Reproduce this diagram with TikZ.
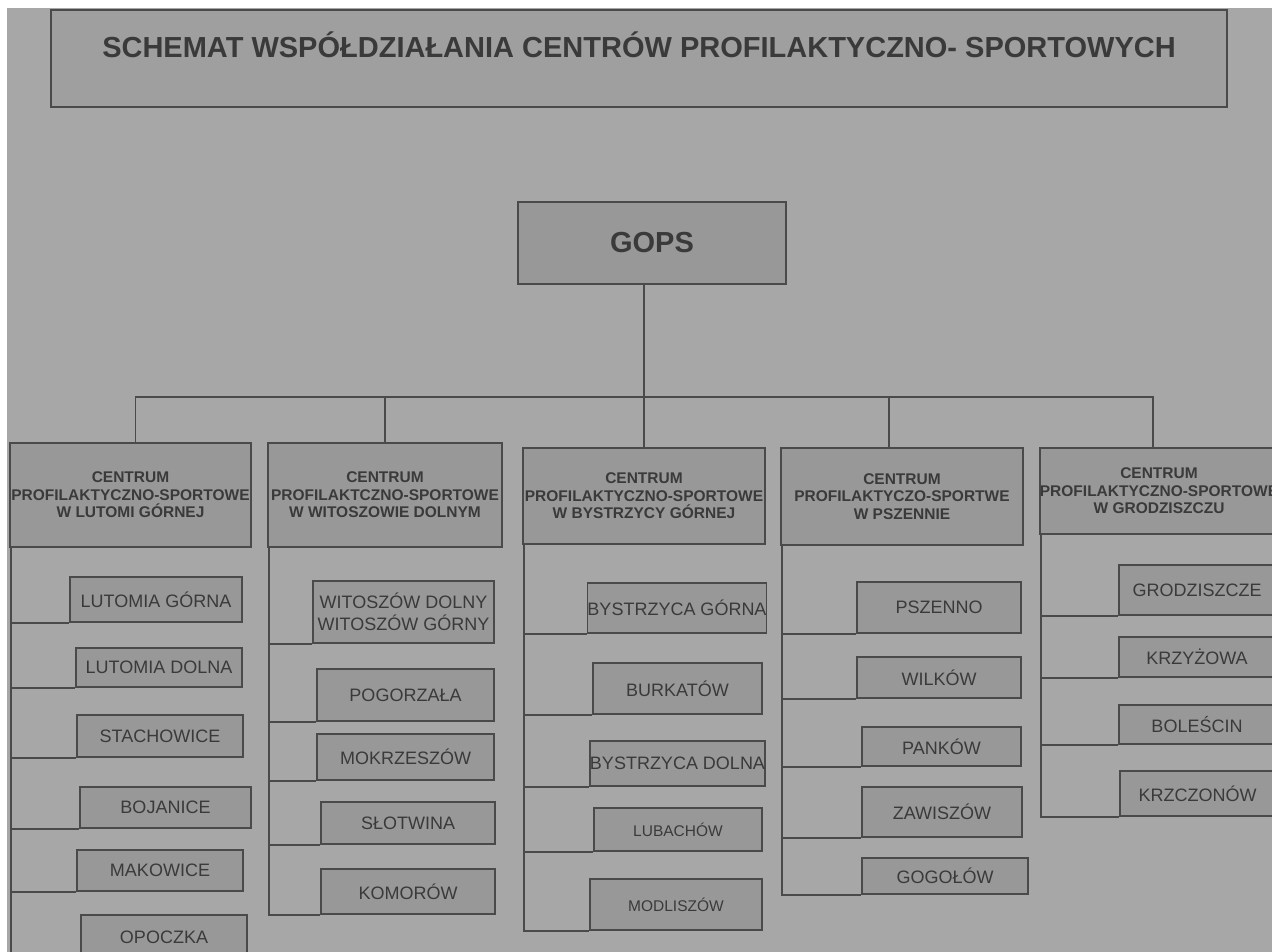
\documentclass[tikz,border=0pt]{standalone}
\usepackage{fontspec}
\setmainfont{Liberation Sans}
\usepackage{tikz}
\usetikzlibrary{positioning}
\definecolor{tlo}{HTML}{A7A7A7}
\definecolor{titlefill}{HTML}{9F9F9F}
\definecolor{boxfill}{HTML}{989898}
\definecolor{linegray}{HTML}{4A4A4A}
\definecolor{textgray}{HTML}{3A3A3A}
\newcommand{\titlefont}{\fontsize{29}{32}\selectfont\bfseries}
\newcommand{\headfont}{\fontsize{15.5}{17.5}\selectfont\bfseries}
\newcommand{\placefont}{\fontsize{18}{22}\selectfont}
\newcommand{\smallplacefont}{\fontsize{15.5}{18}\selectfont}

\begin{document}
\begin{tikzpicture}[x=1pt, y=-1pt]
    % --- Styles ---
    \tikzstyle{link}=[line width=1.6pt, draw=linegray]
    \tikzstyle{titlebox}=[draw=linegray, line width=1.4pt, fill=titlefill, minimum width=1176pt, inner sep=0pt, text height=48pt, text depth=49pt, text=textgray, font=\titlefont]
    \tikzstyle{gopsbox}=[draw=linegray, line width=1.6pt, fill=boxfill, minimum width=268pt, minimum height=82pt, inner sep=0pt, text=textgray, font=\titlefont]
    \tikzstyle{headbox}=[draw=linegray, line width=1.6pt, fill=boxfill, align=center, inner sep=0pt, text=textgray, font=\headfont]
    \tikzstyle{place}=[draw=linegray, line width=1.6pt, fill=boxfill, align=center, inner sep=0pt, text=textgray, font=\placefont]

    % --- 0. Page and background ---
    \useasboundingbox (0,0) rectangle (1272,952);
    \clip (0,0) rectangle (1272,952);
    \fill[white] (0,0) rectangle (1272,952);
    \fill[tlo] (7,8) rectangle (1272,952);

    % --- 1. Title and GOPS ---
    \node[titlebox] (title) at (639,58.5) {SCHEMAT WSPÓŁDZIAŁANIA CENTRÓW PROFILAKTYCZNO- SPORTOWYCH};
    \node[gopsbox] (gops) at (652,243) {GOPS};

    % --- 2. Centres ---
    \node[headbox, minimum width=241pt, minimum height=104pt] (h1) at (130.5,495) {CENTRUM\\PROFILAKTYCZNO-SPORTOWE\\W LUTOMI GÓRNEJ};
    \node[headbox, minimum width=234pt, minimum height=104pt] (h2) at (385,495) {CENTRUM\\PROFILAKTCZNO-SPORTOWE\\W WITOSZOWIE DOLNYM};
    \node[headbox, minimum width=242pt, minimum height=96pt] (h3) at (644,496) {CENTRUM\\PROFILAKTYCZNO-SPORTOWE\\W BYSTRZYCY GÓRNEJ};
    \node[headbox, minimum width=242pt, minimum height=97pt] (h4) at (902,496.5) {CENTRUM\\PROFILAKTYCZO-SPORTWE\\W PSZENNIE};
    \node[headbox, minimum width=232pt, minimum height=86pt] (h5) at (1159,491) {CENTRUM\\PROFILAKTYCZNO-SPORTOWE\\W GRODZISZCZU};

    \coordinate (bus) at (643,397);
    \draw[link] (gops.south -| h3.north) -- (h3.north);
    \draw[link] ([xshift=5pt]h1.north) |- (bus) -| ([xshift=-6pt]h5.north);
    \draw[link] (h2.north) |- (bus);
    \draw[link] ([xshift=-13pt]h4.north) |- (bus);

    % --- 3. Places: Lutomia Górna ---
    \node[place, minimum width=172pt, minimum height=45pt] (a1) at (156,599.5) {LUTOMIA GÓRNA};
    \node[place, minimum width=166pt, minimum height=39pt] (a2) at (159,667.5) {LUTOMIA DOLNA};
    \node[place, minimum width=166pt, minimum height=42pt] (a3) at (160,736) {STACHOWICE};
    \node[place, minimum width=171pt, minimum height=41pt] (a4) at (165.5,807.5) {BOJANICE};
    \node[place, minimum width=166pt, minimum height=41pt] (a5) at (160,870.5) {MAKOWICE};
    \node[place, minimum width=166pt, minimum height=44pt] (a6) at (164,937) {OPOCZKA};
    \draw[link] ([xshift=2pt]h1.south west) |- (a1.south west);
    \draw[link] ([xshift=2pt]h1.south west) |- (a2.south west);
    \draw[link] ([xshift=2pt]h1.south west) |- (a3.south west);
    \draw[link] ([xshift=2pt]h1.south west) |- (a4.south west);
    \draw[link] ([xshift=2pt]h1.south west) |- (a5.south west);
    \draw[link] ([xshift=2pt]h1.south west) |- (a6.south west);

    % --- 4. Places: Witoszów Dolny ---
    \node[place, minimum width=181pt, minimum height=62pt] (b1) at (403.5,612) {WITOSZÓW DOLNY\\WITOSZÓW GÓRNY};
    \node[place, minimum width=177pt, minimum height=52pt] (b2) at (405.5,695) {POGORZAŁA};
    \node[place, minimum width=177pt, minimum height=46pt] (b3) at (405.5,757) {MOKRZESZÓW};
    \node[place, minimum width=174pt, minimum height=42pt] (b4) at (408,823) {SŁOTWINA};
    \node[place, minimum width=174pt, minimum height=45pt] (b5) at (408,891.5) {KOMORÓW};
    \draw[link] ([xshift=2pt]h2.south west) |- (b1.south west);
    \draw[link] ([xshift=2pt]h2.south west) |- (b2.south west);
    \draw[link] ([xshift=2pt]h2.south west) |- (b3.south west);
    \draw[link] ([xshift=2pt]h2.south west) |- (b4.south west);
    \draw[link] ([xshift=2pt]h2.south west) |- (b5.south west);

    % --- 5. Places: Bystrzyca Górna ---
    \node[place, minimum width=168pt, minimum height=50pt] (c1) at (677,608) {BYSTRZYCA GÓRNA};
    \node[place, minimum width=169pt, minimum height=51pt] (c2) at (677.5,688.5) {BURKATÓW};
    \node[place, minimum width=169pt, minimum height=45pt] (c3) at (677.5,763.5) {BYSTRZYCA DOLNA};
    \node[place, minimum width=168pt, minimum height=43pt, font=\smallplacefont] (c4) at (678,829.5) {LUBACHÓW};
    \node[place, minimum width=172pt, minimum height=51pt, font=\smallplacefont] (c5) at (676,904.5) {MODLISZÓW};
    \draw[link] ([xshift=2pt]h3.south west) |- (c1.south west);
    \draw[link] ([xshift=2pt]h3.south west) |- (c2.south west);
    \draw[link] ([xshift=2pt]h3.south west) |- (c3.south west);
    \draw[link] ([xshift=2pt]h3.south west) |- (c4.south west);
    \draw[link] ([xshift=2pt]h3.south west) |- (c5.south west);

    % --- 6. Places: Pszenno ---
    \node[place, minimum width=164pt, minimum height=51pt] (d1) at (939,607.5) {PSZENNO};
    \node[place, minimum width=164pt, minimum height=41pt] (d2) at (939,677.5) {WILKÓW};
    \node[place, minimum width=159pt, minimum height=39pt] (d3) at (941.5,746.5) {PANKÓW};
    \node[place, minimum width=160pt, minimum height=50pt] (d4) at (942,812) {ZAWISZÓW};
    \node[place, minimum width=166pt, minimum height=36pt] (d5) at (945,876) {GOGOŁÓW};
    \draw[link] ([xshift=2pt]h4.south west) |- (d1.south west);
    \draw[link] ([xshift=2pt]h4.south west) |- (d2.south west);
    \draw[link] ([xshift=2pt]h4.south west) |- (d3.south west);
    \draw[link] ([xshift=2pt]h4.south west) |- (d4.south west);
    \draw[link] ([xshift=2pt]h4.south west) |- (d5.south west);

    % --- 7. Places: Grodziszcze ---
    \node[place, minimum width=156pt, minimum height=50pt] (e1) at (1197,590) {GRODZISZCZE};
    \node[place, minimum width=156pt, minimum height=40pt] (e2) at (1197,657) {KRZYŻOWA};
    \node[place, minimum width=156pt, minimum height=39pt] (e3) at (1197,724.5) {BOLEŚCIN};
    \node[place, minimum width=155pt, minimum height=45pt] (e4) at (1197.5,793.5) {KRZCZONÓW};
    \draw[link] ([xshift=2pt]h5.south west) |- (e1.south west);
    \draw[link] ([xshift=2pt]h5.south west) |- (e2.south west);
    \draw[link] ([xshift=2pt]h5.south west) |- (e3.south west);
    \draw[link] ([xshift=2pt]h5.south west) |- (e4.south west);

\end{tikzpicture}
\end{document}
